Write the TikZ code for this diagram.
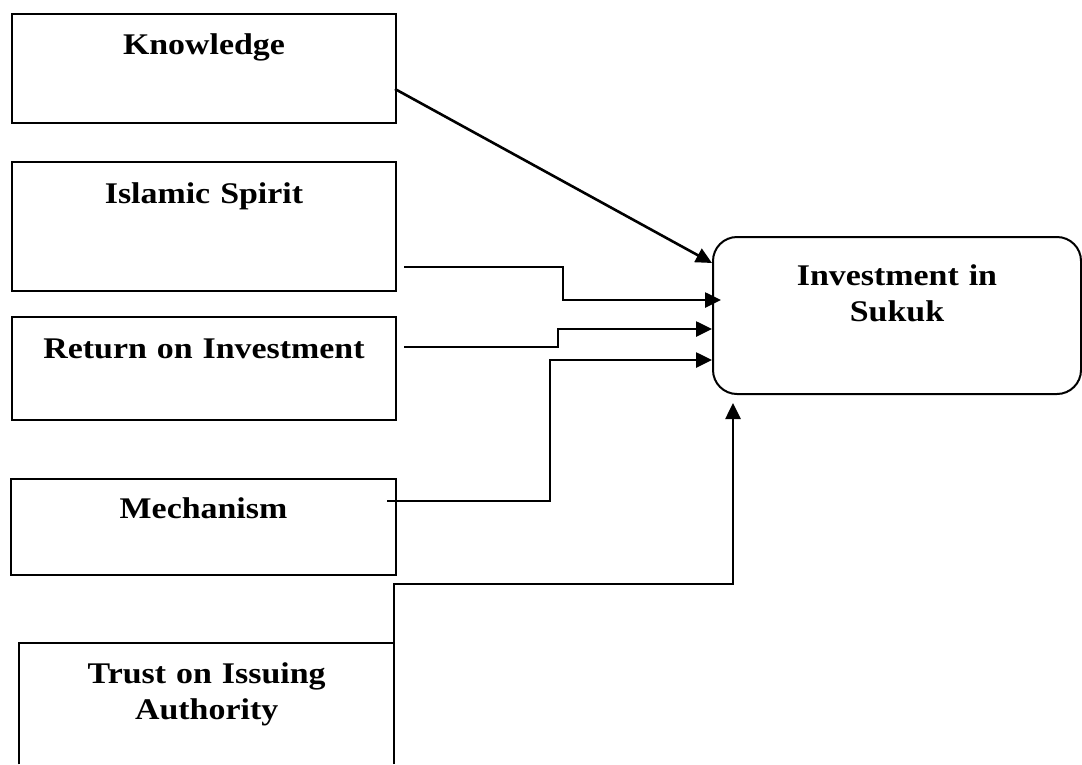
\documentclass[tikz,border=0pt]{standalone}
\usepackage{fontspec}
\setmainfont{Liberation Serif}[FakeStretch=1.13,WordSpace=0.8]
\usetikzlibrary{arrows.meta,calc}
\begin{document}
\begin{tikzpicture}[x=1pt,y=-1pt,
  boxtext/.style={inner sep=0pt,align=center,anchor=north west,
    font=\fontsize{30}{36}\selectfont\bfseries},
  box/.style={boxtext,draw,line width=2pt},
  conn/.style={line width=2.6pt,-{Triangle[length=16pt,width=15pt]}},
  plain/.style={line width=2.6pt}]
\useasboundingbox (0,0) rectangle (1082,764);
\node[box,text width=384pt,text height=40pt,text depth=69pt] (know) at (11,13) {Knowledge};
\node[box,text width=384pt,text height=41pt,text depth=88pt] (isl) at (11,161) {Islamic Spirit};
\node[box,text width=384pt,text height=41pt,text depth=62pt] (roi) at (11,316) {Return on Investment};
\node[box,text width=385pt,text height=39pt,text depth=57pt] (mech) at (10,478) {Mechanism};
\node[boxtext,text width=375pt,text height=40pt,text depth=81pt] (trust) at (19,643) {Trust on Issuing\\Authority};
\draw[line width=2pt] (trust.south west) -- (trust.north west) -- (trust.north east) -- (trust.south east);
\node[box,rounded corners=24pt,text width=368pt,text height=48pt,text depth=109pt] (suk) at (712,236) {Investment in\\Sukuk};
% connectors
\coordinate (ks) at (395,89);
\coordinate (is) at (404,267);
\coordinate (rs) at (404,347);
\coordinate (ms) at (387,501);
\coordinate (ts) at (394,764);
\draw[conn] (ks) -- ($(suk.north west)+(0,27)$);
\draw[conn] (is) -- (563,267) -- (563,300) -- ($(suk.north west)+(9,64)$);
\draw[conn] (rs) -- (558,347) -- (558,329) -- ($(suk.north west)+(0,93)$);
\draw[conn] (ms) -- (550,501) -- (550,360) -- ($(suk.north west)+(0,124)$);
\draw[conn] (ts) -- (394,584) -- (733,584) -- ($(suk.south west)+(21,8)$);
\end{tikzpicture}
\end{document}
